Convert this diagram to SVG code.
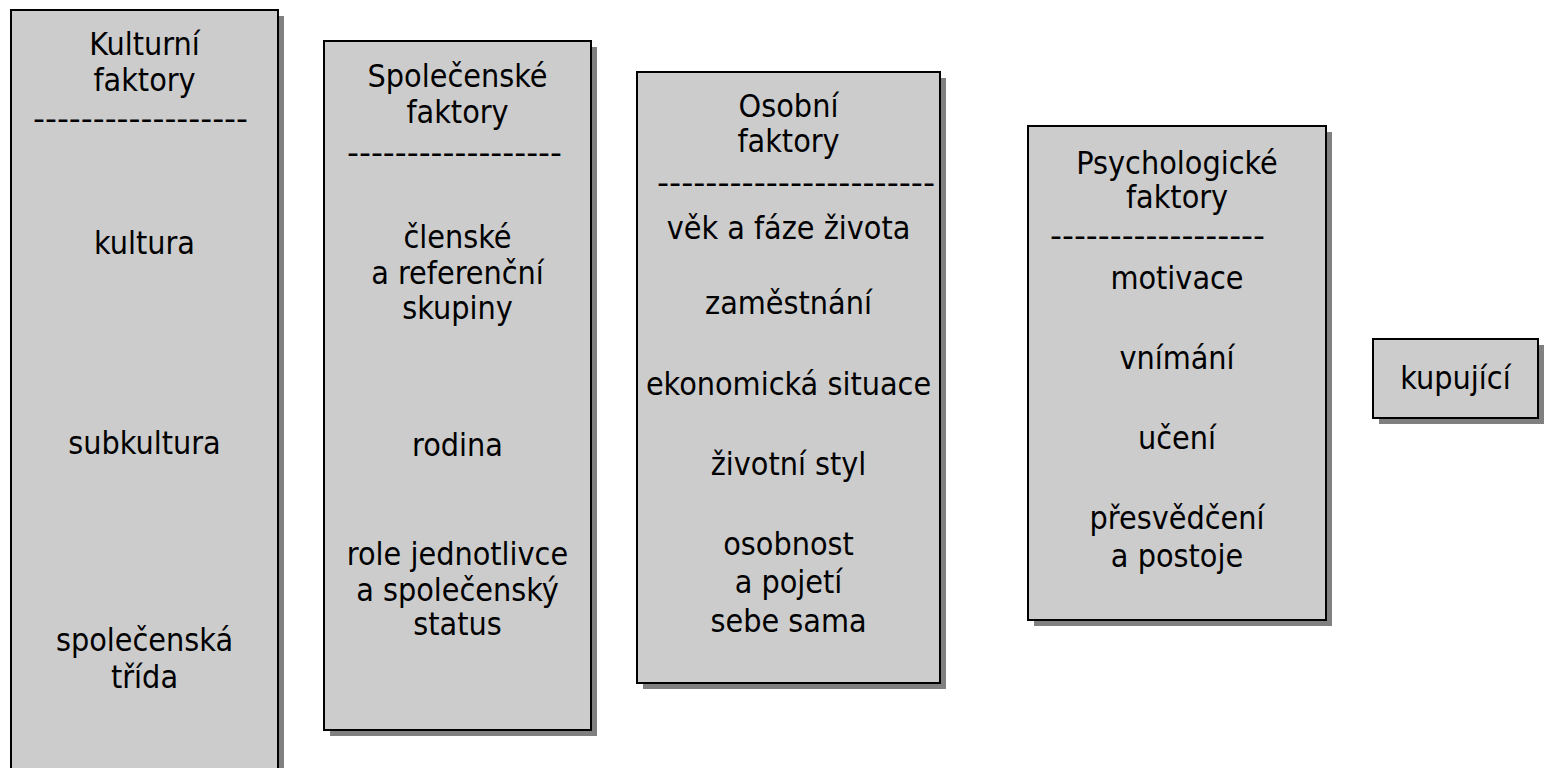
<svg xmlns="http://www.w3.org/2000/svg" width="1563" height="768" viewBox="0 0 1563 768">
<style>
.shadow{fill:#808080;stroke:none}
.box{fill:#cccccc;stroke:#000;stroke-width:2}
text{font-family:"DejaVu Sans Condensed","DejaVu Sans","Liberation Sans",sans-serif;font-stretch:condensed;font-size:32px;fill:#000;text-anchor:middle}
</style>
<rect width="1563" height="768" fill="#fff"/>
<g id="connectors"></g>
<g id="kulturni">
<rect class="shadow" x="16" y="16" width="268" height="770"/>
<rect class="box" x="11" y="10" width="267" height="770"/>
<text x="144.5" y="55">Kulturní</text>
<text x="144.5" y="91">faktory</text>
<text x="140.5" y="130" textLength="215" lengthAdjust="spacingAndGlyphs">------------------</text>
<text x="144.5" y="254">kultura</text>
<text x="144.5" y="454">subkultura</text>
<text x="144.5" y="651">společenská</text>
<text x="144.5" y="688">třída</text>
</g>
<g id="spolecenske">
<rect class="shadow" x="330" y="47" width="267" height="689"/>
<rect class="box" x="324" y="41" width="267" height="689"/>
<text x="457.5" y="87">Společenské</text>
<text x="457.5" y="123">faktory</text>
<text x="454.5" y="164" textLength="215" lengthAdjust="spacingAndGlyphs">------------------</text>
<text x="457.5" y="248">členské</text>
<text x="457.5" y="284">a referenční</text>
<text x="457.5" y="319">skupiny</text>
<text x="457.5" y="456">rodina</text>
<text x="457.5" y="565">role jednotlivce</text>
<text x="457.5" y="601">a společenský</text>
<text x="457.5" y="635">status</text>
</g>
<g id="osobni">
<rect class="shadow" x="643" y="78" width="303" height="611"/>
<rect class="box" x="637" y="72" width="303" height="611"/>
<text x="788.5" y="117">Osobní</text>
<text x="788.5" y="152">faktory</text>
<text x="796" y="194" textLength="278" lengthAdjust="spacingAndGlyphs">-----------------------</text>
<text x="788.5" y="239">věk a fáze života</text>
<text x="788.5" y="314">zaměstnání</text>
<text x="788.5" y="395">ekonomická situace</text>
<text x="788.5" y="475">životní styl</text>
<text x="788.5" y="555">osobnost</text>
<text x="788.5" y="593">a pojetí</text>
<text x="788.5" y="632">sebe sama</text>
</g>
<g id="psychologicke">
<rect class="shadow" x="1034" y="132" width="298" height="494"/>
<rect class="box" x="1028" y="126" width="298" height="494"/>
<text x="1177" y="174">Psychologické</text>
<text x="1177" y="208">faktory</text>
<text x="1157.5" y="247" textLength="215" lengthAdjust="spacingAndGlyphs">------------------</text>
<text x="1177" y="289">motivace</text>
<text x="1177" y="369">vnímání</text>
<text x="1177" y="449">učení</text>
<text x="1177" y="529">přesvědčení</text>
<text x="1177" y="567">a postoje</text>
</g>
<g id="kupujici">
<rect class="shadow" x="1379" y="345" width="165" height="79"/>
<rect class="box" x="1373" y="339" width="165" height="79"/>
<text x="1455.5" y="389">kupující</text>
</g>
</svg>
